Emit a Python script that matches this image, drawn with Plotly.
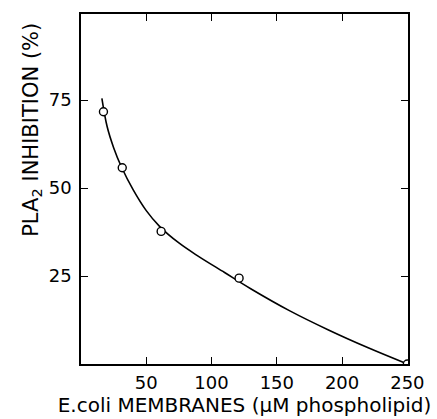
import plotly.graph_objects as go

# measured points
membranes = [17.2, 31.6, 61.4, 121.1, 250]
inhibition = [71.7, 55.8, 37.7, 24.4, 0.0]

# fitted curve as drawn in the figure
curve_x = [16, 20, 25, 31, 40, 50, 60, 75, 90, 110, 130, 160, 190, 220, 250]
curve_y = [75.5, 67.5, 61.5, 56.0, 49.5, 43.6, 39.2, 34.4, 30.6, 26.0, 21.4, 15.1, 9.6, 4.6, 0.0]

x_ticks = [50, 100, 150, 200, 250]
y_ticks = [25, 50, 75]

font_family = "DejaVu Sans"

fig = go.Figure()
fig.add_trace(go.Scatter(x=curve_x, y=curve_y, mode="lines",
                         line=dict(color="black", width=1.6, shape="spline", smoothing=1.0),
                         hoverinfo="skip", showlegend=False))
fig.add_trace(go.Scatter(x=membranes, y=inhibition, mode="markers",
                         marker=dict(symbol="circle", size=8, color="white",
                                     line=dict(color="black", width=1.4)),
                         showlegend=False))

fig.update_layout(
    width=437, height=419,
    margin=dict(l=81, r=20, t=13, b=52),
    paper_bgcolor="white", plot_bgcolor="white",
    font=dict(family=font_family, color="black", size=18),
    xaxis=dict(range=[0, 250.5], tickvals=x_ticks, ticktext=[str(v) for v in x_ticks],
               ticks="inside", ticklen=7, tickwidth=1.4, tickcolor="black",
               showline=True, linecolor="black", linewidth=1.6, mirror="ticks",
               showgrid=False, zeroline=False, tickfont=dict(size=18), ticklabelstandoff=2,
               ticklabeloverflow="allow",
               title=dict(text="E.coli MEMBRANES (μM phospholipid)", font=dict(size=20), standoff=0)),
    yaxis=dict(range=[0, 99.5], tickvals=y_ticks, ticktext=[str(v) for v in y_ticks],
               ticks="inside", ticklen=7, tickwidth=1.4, tickcolor="black",
               showline=True, linecolor="black", linewidth=1.6, mirror="ticks",
               showgrid=False, zeroline=False, tickfont=dict(size=18), ticklabelstandoff=4),
)

fig.add_annotation(text="PLA<sub>2</sub> INHIBITION (%)", xref="paper", yref="paper",
                   x=-0.152, y=0.67, textangle=-90, showarrow=False,
                   xanchor="center", yanchor="middle", font=dict(size=21))

fig.write_html("out.html", config={"displayModeBar": False},
               post_script="document.body.style.margin='0px';document.body.style.overflow='hidden';")
